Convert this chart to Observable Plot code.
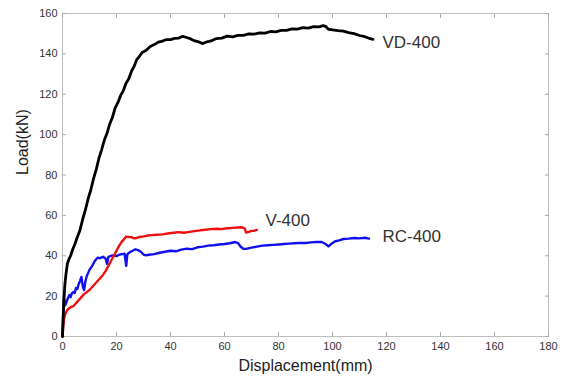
<!DOCTYPE html>
<html>
<head>
<meta charset="utf-8">
<script src="https://cdn.jsdelivr.net/npm/d3@7"></script>
<script src="https://cdn.jsdelivr.net/npm/@observablehq/plot@0.6"></script>
<style>
  html, body { margin: 0; padding: 0; background: #fff; }
  #chart { width: 565px; height: 376px; }
</style>
</head>
<body>
<div id="chart"></div>
<script>
// VD-400 (black)
const vdX = [0,0.2,0.5,0.9,1.3,1.8,2.4,3.0,3.8,4.6,5.5,6.5,7.5,8.5,9.5,10.5,11.5,12.5,13.5,14.5,15.5,16.5,17.5,18.5,19.5,20.5,21.5,22.5,23.5,24.5,25.5,26.5,27.5,28.5,29.5,31,32.5,34,35.5,37,38.5,40,41.5,43,44.5,46,47.5,49,50.5,52,53.5,55,57,59,61,63,65,67,69,71,73,75,77,79,81,83,85,87,89,91,93,95,96.5,97.5,98.5,100,102,104,106,108,110,112,114,115];
const vdY = [0,8,18,26,31,36,38.3,40,43.2,45.8,49.3,52.8,58.2,62.8,68.3,72.7,78.2,82.8,88.3,92.6,97.3,100.7,105.3,108.6,113.2,115.8,119.3,121.7,125.3,127.6,131.2,133.8,137.2,138.8,140.7,141.8,143.7,144.6,145.8,146.3,147.1,147.1,147.7,147.8,148.7,148.1,147.4,146.4,145.9,145.1,146.0,146.4,147.6,147.8,148.8,148.4,149.2,149.2,149.9,149.8,150.4,150.3,151.1,150.9,151.6,151.6,152.4,152.3,153.0,152.8,153.5,153.4,154.0,153.6,152.2,151.9,151.5,151.3,150.5,150.0,149.1,148.5,147.5,147.2];

// V-400 (red)
const vX = [0,0.2,0.5,1,1.5,2,3,4,5,6,7,8,9,10,11,12,13,14,15,16,17,18,19,20,21,22,23,23.5,24.5,25.5,26.5,27.5,28.5,30,31.5,33,35,37,39,41,43,45,47,49,51,53,55,57,59,61,63,65,66,67,67.5,68,69,70,71,72];
const vY = [0,4,8,11,12.5,13.5,14.5,15,16.5,18,19.5,21,22,23,24.5,26,27.5,29,30.5,32.5,35,37.5,40,42.5,45,47,48.5,49.5,49.3,49.2,48.6,48.8,49.3,49.6,50.0,50.2,50.4,50.6,51.0,51.4,51.7,51.4,51.8,52.2,52.6,52.9,53.2,53.4,53.2,53.6,53.8,54.0,54.1,53.9,53.5,51.5,51.8,52.3,52.4,52.8];

// RC-400 (blue)
const rcX = [0,0.3,0.6,1,1.5,2,2.5,3,3.5,4,4.5,5,5.5,6,6.5,7,7.5,8,8.5,9,10,11,12,13,14,15,16,16.5,17,18,19,20,21,22,23,23.6,24,24.4,25,26,27,28,29,30,31,32,34,36,38,40,42,44,46,48,50,52,54,56,58,60,62,64,65,66,67,68,70,72,74,76,78,80,82,84,86,88,90,92,94,96,97.5,98.5,99.5,101,102.5,104,106,108,110,112,113.5];
const rcY = [0,12,19,15.5,17,19,20.5,19.5,21.5,22,21.5,24,23.5,26,27.5,29.5,25,23,27.5,30,33,35,37.5,39,38.8,39.5,38.5,36,39.5,40,40.2,39.8,40.5,40.8,41,35,40.5,41.2,41.8,42.5,43.2,42.8,42,40.6,40.2,40.5,40.8,41.5,42,42.5,42.2,43,43.5,43.3,44.2,44.5,45,45.2,45.6,45.8,46.2,46.8,46.3,44.5,43.5,43.4,44,44.5,45,45.2,45.4,45.6,45.8,46,46.2,46.4,46.3,46.6,46.8,46.8,45.8,44.6,45.8,47.2,47.6,48.3,48.5,48.8,48.6,48.9,48.5];

// Series labels
const labelText = ["VD-400", "V-400", "RC-400"];
const labelX = [118.5, 75.2, 118.5];
const labelY = [145.5, 57.4, 49.5];

const xTicks = [0,20,40,60,80,100,120,140,160,180];
const yTicks = [0,20,40,60,80,100,120,140,160];

const series = (xs, ys) => xs.map((x, i) => ({x, y: ys[i]}));
const labels = labelText.map((t, i) => ({t, x: labelX[i], y: labelY[i]}));

const chart = Plot.plot({
  width: 565,
  height: 376,
  marginLeft: 62,
  marginRight: 17,
  marginTop: 13,
  marginBottom: 40,
  style: {fontFamily: "'Liberation Sans', Arial, sans-serif", background: "#fff"},
  x: {domain: [0, 180]},
  y: {domain: [0, 160]},
  marks: [
    Plot.frame({stroke: "#bdbdbd", strokeWidth: 1}),
    // tick labels
    Plot.axisX(xTicks, {anchor: "bottom", tickSize: 0, tickPadding: 6, fontSize: 11, fill: "#333", label: null}),
    Plot.axisY(yTicks, {anchor: "left", tickSize: 0, tickPadding: 5, fontSize: 11, fill: "#333", label: null}),
    // inward ticks on all sides
    Plot.axisX(xTicks, {anchor: "bottom", tickSize: -4, text: null, stroke: "#aaa", label: null}),
    Plot.axisX(xTicks, {anchor: "top", tickSize: -4, text: null, stroke: "#aaa", label: null}),
    Plot.axisY(yTicks, {anchor: "left", tickSize: -4, text: null, stroke: "#aaa", label: null}),
    Plot.axisY(yTicks, {anchor: "right", tickSize: -4, text: null, stroke: "#aaa", label: null}),
    // axis titles
    Plot.text(["Displacement(mm)"], {text: d => d, frameAnchor: "bottom", dy: 34, fontSize: 16, fill: "#222"}),
    Plot.text(["Load(kN)"], {text: d => d, frameAnchor: "left", dx: -40, rotate: -90, fontSize: 16, fill: "#222"}),
    // data
    Plot.line(series(rcX, rcY), {x: "x", y: "y", stroke: "#1010ee", strokeWidth: 2.4}),
    Plot.line(series(vX, vY), {x: "x", y: "y", stroke: "#ee1010", strokeWidth: 2.4}),
    Plot.line(series(vdX, vdY), {x: "x", y: "y", stroke: "#000", strokeWidth: 2.8}),
    Plot.text(labels, {x: "x", y: "y", text: "t", textAnchor: "start", fontSize: 17, fill: "#333"})
  ]
});
document.getElementById("chart").appendChild(chart);
</script>
</body>
</html>
